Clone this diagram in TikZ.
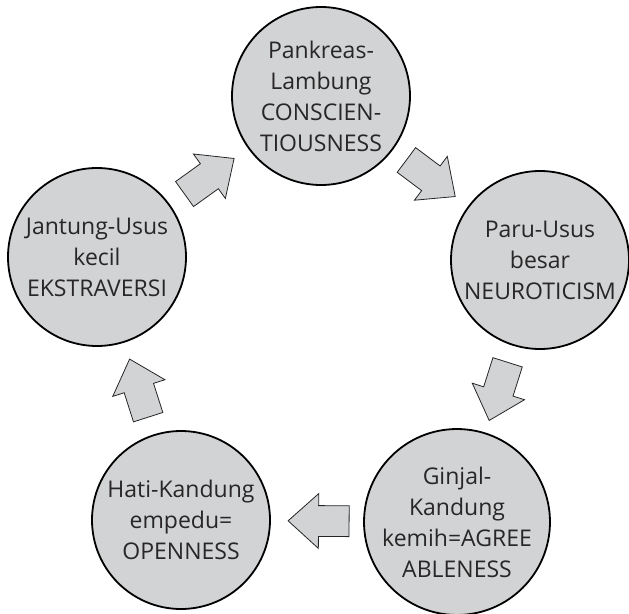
\documentclass[tikz,border=0pt]{standalone}
\usepackage{fontspec}
\setmainfont{Open Sans}
\usetikzlibrary{shapes.arrows,calc}
\definecolor{cfill}{RGB}{209,211,212}
\definecolor{ctext}{RGB}{40,38,38}
\tikzset{
  organ/.style={circle, draw=black, line width=1.8pt, fill=cfill, minimum size=178pt,
    inner sep=0pt, align=center, text=ctext, font=\fontsize{23}{31}\selectfont},
  blockarrow/.style={single arrow, draw=black!85, line width=0.8pt, fill=cfill,
    minimum height=61pt, minimum width=0pt, inner xsep=0pt, inner ysep=15pt,
    single arrow head extend=12pt, single arrow tip angle=84, anchor=tail}
}
\begin{document}
\begin{tikzpicture}[x=1pt,y=-1pt]
\useasboundingbox (0,0) rectangle (629,613);
\node[organ] (T) at (321,96) {Pankreas-\\Lambung\\CONSCIEN-\\TIOUSNESS};
\node[organ] (R) at (540,260) {Paru-Usus\\besar\\NEUROTICISM};
\node[organ] (G) at (457,522) {Ginjal-\\Kandung\\kemih=AGREE\\ABLENESS};
\node[organ] (H) at (181,520) {Hati-Kandung\\empedu=\\OPENNESS};
\node[organ] (J) at (97,257) {Jantung-Usus\\kecil\\EKSTRAVERSI};
\foreach \fa/\fb/\fn in {J/T/a1, T/R/a2, R/G/a3, G/H/a4, H/J/a5}{
  \path let \p1=($(\fb.center)-(\fa.center)$), \n1={atan2(\y1,\x1)} in
    node[blockarrow, rotate=\n1] (\fn) at ($(\fa.center)!0.5!(\fb.center)!30.5pt!(\fa.center)$) {};
}
\end{tikzpicture}
\end{document}
